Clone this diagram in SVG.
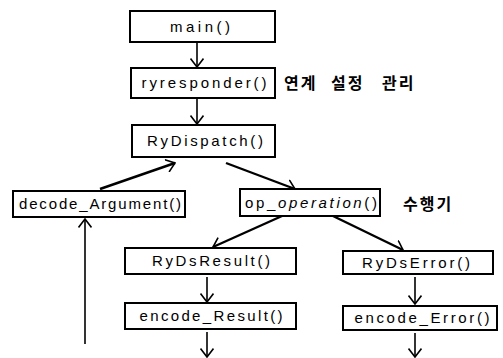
<svg xmlns="http://www.w3.org/2000/svg" width="503" height="358" viewBox="0 0 503 358">
<style>
.box rect{fill:#fff;stroke:#000;stroke-width:2}
.box text{font-family:"Liberation Sans","DejaVu Sans",sans-serif;font-size:15px;fill:#000;text-anchor:middle}
.note{font-family:"Noto Sans CJK KR","Noto Sans",sans-serif;font-size:16px;font-weight:bold;fill:#000;letter-spacing:2px}
.conn line{stroke:#000;fill:none}
.thin{stroke-width:1.6}
.thick{stroke-width:2.4}
</style>
<defs>
<marker id="v" viewBox="0 0 10 14" refX="9" refY="7" markerWidth="10" markerHeight="14" markerUnits="userSpaceOnUse" orient="auto">
<path d="M0.5,0.5 L9,7 L0.5,13.5" fill="none" stroke="#000" stroke-width="1.6"/>
</marker>
</defs>
<rect width="503" height="358" fill="#fff"/>
<g class="conn">
<line class="thin" x1="197" y1="42" x2="197" y2="67" marker-end="url(#v)"/>
<line class="thin" x1="197" y1="98" x2="197" y2="124" marker-end="url(#v)"/>
<line class="thick" x1="100" y1="189" x2="175" y2="163" marker-end="url(#v)"/>
<line class="thick" x1="226" y1="163" x2="295" y2="189" marker-end="url(#v)"/>
<line class="thick" x1="282" y1="216" x2="213" y2="247" marker-end="url(#v)"/>
<line class="thick" x1="333" y1="216" x2="403" y2="250" marker-end="url(#v)"/>
<line class="thin" x1="207" y1="277" x2="207" y2="302" marker-end="url(#v)"/>
<line class="thin" x1="207" y1="332" x2="207" y2="357" marker-end="url(#v)"/>
<line class="thin" x1="415" y1="277" x2="415" y2="304" marker-end="url(#v)"/>
<line class="thin" x1="415" y1="333" x2="415" y2="357" marker-end="url(#v)"/>
<line class="thin" x1="85" y1="344" x2="85" y2="219" marker-end="url(#v)"/>
</g>
<g id="main" class="box"><rect x="130" y="11" width="145" height="31"/><text x="200" y="32" textLength="60" lengthAdjust="spacing">main()</text></g>
<g id="ryresponder" class="box"><rect x="131" y="68" width="144" height="30"/><text x="204" y="88" textLength="125" lengthAdjust="spacing">ryresponder()</text></g>
<text id="note1" class="note" y="89"><tspan x="284">연계</tspan> <tspan x="331">설정</tspan> <tspan x="382">관리</tspan></text>
<g id="RyDispatch" class="box"><rect x="132" y="125" width="143" height="32"/><text x="205" y="146" textLength="116" lengthAdjust="spacing">RyDispatch()</text></g>
<g id="decode_Argument" class="box"><rect x="13" y="191" width="172" height="26"/><text x="100" y="209" textLength="162" lengthAdjust="spacing">decode_Argument()</text></g>
<g id="op_operation" class="box"><rect x="240" y="189" width="140" height="27"/><text x="311" y="208" textLength="132" lengthAdjust="spacing">op_<tspan font-style="italic">operation</tspan>()</text></g>
<text id="note2" class="note" x="403" y="210">수행기</text>
<g id="RyDsResult" class="box"><rect x="125" y="248" width="171" height="26"/><text x="211" y="266" textLength="118" lengthAdjust="spacing">RyDsResult()</text></g>
<g id="RyDsError" class="box"><rect x="343" y="251" width="150" height="23"/><text x="416" y="268" textLength="108" lengthAdjust="spacing">RyDsError()</text></g>
<g id="encode_Result" class="box"><rect x="125" y="303" width="171" height="26"/><text x="211" y="321" textLength="143" lengthAdjust="spacing">encode_Result()</text></g>
<g id="encode_Error" class="box"><rect x="343" y="306" width="154" height="24"/><text x="422" y="323" textLength="135" lengthAdjust="spacing">encode_Error()</text></g>
</svg>
